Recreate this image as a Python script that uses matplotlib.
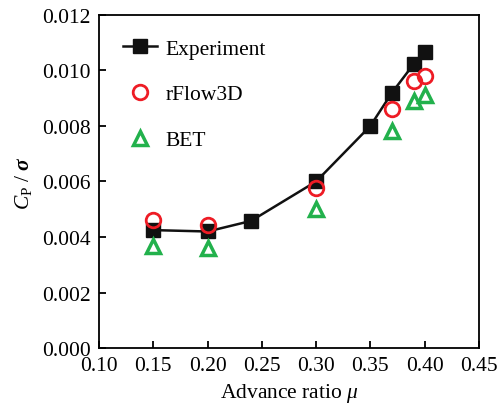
import numpy as np
import matplotlib
matplotlib.use("Agg")
import matplotlib.pyplot as plt

plt.rcParams.update({
    "font.family": "Liberation Serif", "mathtext.fontset": "custom",
    "mathtext.rm": "Liberation Serif", "mathtext.it": "Liberation Serif:italic",
    "mathtext.bf": "Liberation Serif:bold:italic",
    "font.size": 15.5, "axes.linewidth": 1.3,
    "xtick.direction": "in", "ytick.direction": "in",
    "xtick.major.size": 5, "ytick.major.size": 5,
    "xtick.major.width": 1.3, "ytick.major.width": 1.3,
})

RED, GREEN = "#ee1c25", "#22b14c"

mu_exp = [0.15, 0.20, 0.24, 0.30, 0.35, 0.37, 0.39, 0.40]
cp_exp = [0.00425, 0.0042, 0.00458, 0.0060, 0.0080, 0.0092, 0.01023, 0.01067]
mu_cfd = [0.15, 0.20, 0.30, 0.37, 0.39, 0.40]
cp_cfd = [0.00461, 0.00443, 0.00576, 0.0086, 0.00962, 0.0098]
mu_bet = [0.15, 0.20, 0.30, 0.37, 0.39, 0.40]
cp_bet = [0.00368, 0.0036, 0.0050, 0.0078, 0.0089, 0.00912]

xticks = [0.10, 0.15, 0.20, 0.25, 0.30, 0.35, 0.40, 0.45]
yticks = [0.000, 0.002, 0.004, 0.006, 0.008, 0.010, 0.012]

fig = plt.figure(figsize=(5.03, 4.06), dpi=100)
ax = fig.add_axes([0.197, 0.140, 0.755, 0.821])

ax.plot(mu_exp, cp_exp, "-s", color="#111111", lw=1.8, ms=9.5,
        label="Experiment", zorder=2)
ax.plot(mu_cfd, cp_cfd, "o", ls="none", mfc="none", mec=RED, mew=2,
        ms=10.5, label="rFlow3D", zorder=3)
ax.plot(mu_bet, cp_bet, "^", ls="none", mfc="none", mec=GREEN, mew=2.5,
        ms=10, label="BET", zorder=3)

ax.set_xlim(0.10, 0.45)
ax.set_ylim(0.0, 0.012)
ax.set_xticks(xticks)
ax.set_xticklabels([f"{v:.2f}" for v in xticks])
ax.set_yticks(yticks)
ax.set_yticklabels([f"{v:.3f}" for v in yticks])
ax.tick_params(top=False, right=False, pad=6)

ax.set_xlabel(r"Advance ratio $\mathit{\mu}$", labelpad=4)
ax.set_ylabel(r"$\mathit{C}_{\mathrm{P}}$ / $\mathbf{\sigma}$", labelpad=6)

ax.legend(loc="upper left", frameon=False, handlelength=1.6,
          handletextpad=0.4, labelspacing=1.2, borderaxespad=0.7,
          fontsize=15.5)

fig.savefig("out.png", dpi=100)
